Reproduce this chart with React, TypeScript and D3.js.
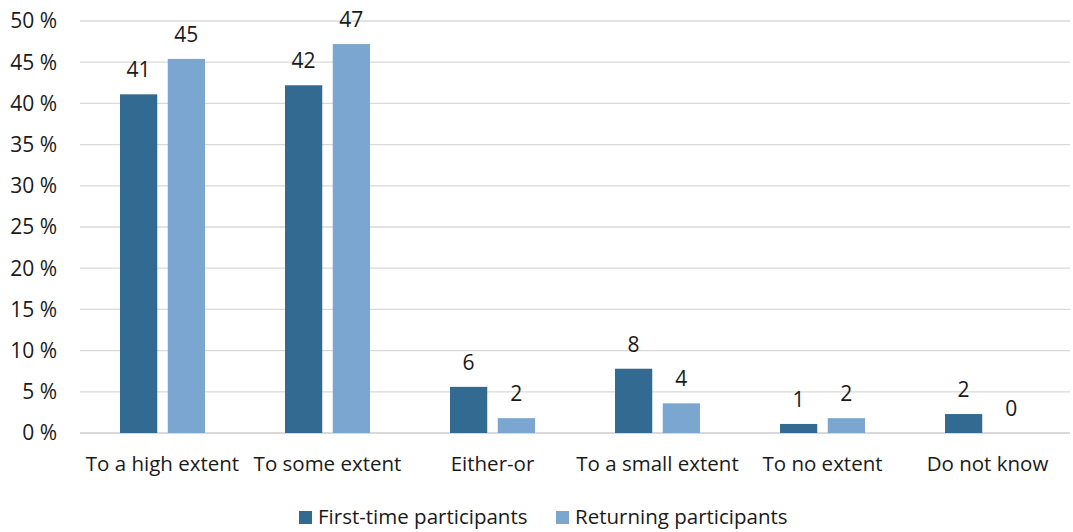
import * as d3 from 'd3';
import * as React from 'react';

const width = 1073;
const height = 532;
const margin = { top: 21, right: 3, bottom: 99, left: 80 };

const categories = [
  'To a high extent',
  'To some extent',
  'Either-or',
  'To a small extent',
  'To no extent',
  'Do not know',
];
const seriesNames = ['First-time participants', 'Returning participants'];
const firstTime = [41.1, 42.2, 5.6, 7.8, 1.1, 2.3];
const returning = [45.4, 47.2, 1.8, 3.6, 1.8, 0];
const yTicks = [0, 5, 10, 15, 20, 25, 30, 35, 40, 45, 50];

const colors = ['#336a91', '#7aa6cf'];
const font = '"Open Sans", sans-serif';
const fs = 20.5;

export default () => {
  const x0 = d3
    .scaleBand()
    .domain(categories)
    .range([margin.left, width - margin.right])
    .paddingInner(0)
    .paddingOuter(0);

  const x1 = d3
    .scaleBand()
    .domain(seriesNames)
    .range([40, x0.bandwidth() - 40])
    .paddingInner(0.22);

  const y = d3
    .scaleLinear()
    .domain([0, 50])
    .range([height - margin.bottom, margin.top]);

  const series = [firstTime, returning];

  return (
    <svg width={width} height={height} style={{ position: 'absolute', left: 0, top: 0 }} fontFamily={font}>
      {yTicks.map(t => (
        <g key={t}>
          <line
            x1={margin.left}
            x2={width - margin.right}
            y1={y(t)}
            y2={y(t)}
            stroke="#d9d9d9"
            strokeWidth={t === 0 ? 2 : 1.3}
          />
          <text x={57} y={y(t)} dy="0.35em" textAnchor="end" fontSize={21} fill="#1a1a1a">
            {t} %
          </text>
        </g>
      ))}
      {categories.map((c, i) => (
        <g key={c} transform={`translate(${x0(c)},0)`}>
          {series.map((vals, s) => {
            const v = vals[i];
            const bx = x1(seriesNames[s]) as number;
            return (
              <g key={s}>
                <rect
                  x={bx}
                  y={y(v)}
                  width={x1.bandwidth()}
                  height={y(0) - y(v)}
                  fill={colors[s]}
                />
                <text
                  x={bx + x1.bandwidth() / 2}
                  y={y(v) - 17}
                  textAnchor="middle"
                  fontSize={21}
                  fill="#1a1a1a"
                >
                  {Math.round(v)}
                </text>
              </g>
            );
          })}
          <text
            x={x0.bandwidth() / 2}
            y={height - margin.bottom + 38}
            textAnchor="middle"
            fontSize={fs}
            fill="#1a1a1a"
          >
            {c}
          </text>
        </g>
      ))}
      {seriesNames.map((n, s) => {
        const lx = s === 0 ? 299 : 556;
        return (
          <g key={n}>
            <rect x={lx} y={511} width={13} height={13} fill={colors[s]} />
            <text x={lx + 19} y={524} fontSize={fs} fill="#1a1a1a">
              {n}
            </text>
          </g>
        );
      })}
    </svg>
  );
};
